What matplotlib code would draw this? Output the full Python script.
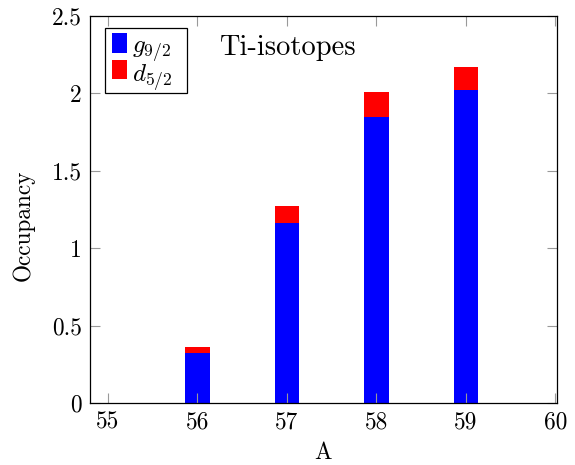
import matplotlib
matplotlib.use("Agg")
import matplotlib.pyplot as plt
from matplotlib.patches import Rectangle

A = [56, 57, 58, 59]
g92 = [0.323, 1.165, 1.847, 2.023]
d52 = [0.040, 0.110, 0.163, 0.147]
labels = [r"$g_{9/2}$", r"$d_{5/2}$"]
colors = ["#0000ff", "#ff0000"]
xticks = [55, 56, 57, 58, 59, 60]
yticks = [0, 0.5, 1, 1.5, 2, 2.5]

plt.rcParams["font.family"] = ["cmr10", "DejaVu Serif"]
plt.rcParams["mathtext.fontset"] = "cm"
plt.rcParams["axes.formatter.use_mathtext"] = True

W, H = 575, 465
L, T, R, B = 90, 15.7, 556.7, 403.3
fig = plt.figure(figsize=(W/100, H/100), dpi=100)
ax = fig.add_axes([L/W, 1-B/H, (R-L)/W, (B-T)/H])

def axf(px, py):
    return ((px-L)/(R-L), (B-py)/(B-T))

w = 0.276
ax.bar(A, g92, width=w, color=colors[0], label=labels[0], linewidth=0)
ax.bar(A, d52, width=w, bottom=g92, color=colors[1], label=labels[1], linewidth=0)

ax.set_xlim(54.8, 60.015)
ax.set_ylim(0, 2.5)
ax.set_xticks(xticks)
ax.set_xticklabels([str(t) for t in xticks])
ax.set_yticks(yticks)
ax.set_yticklabels(["0", "0.5", "1", "1.5", "2", "2.5"])

ax.tick_params(direction="in", length=7, width=0.8, color="#999999",
               top=True, right=True, labelsize=16.8, pad=6)
for s in ax.spines.values():
    s.set_linewidth(0.9)
    s.set_color("black")

ax.set_xlabel("A", fontsize=16.8, labelpad=6)
ax.set_ylabel("Occupancy", fontsize=16.8, labelpad=8)
ax.yaxis.set_label_coords(-0.118, 0.46)

ax.text(57.0, 2.247, "Ti-isotopes", fontsize=20.5, ha="center", va="baseline")

# legend drawn as a framed box with swatches and labels
x0, y0 = axf(104.5, 93.5)
x1, y1 = axf(186.7, 28.0)
ax.add_patch(Rectangle((x0, y0), x1-x0, y1-y0, transform=ax.transAxes,
                       facecolor="white", edgecolor="black", linewidth=0.9, zorder=5))
rows = [(33.3, 52.7, 53.5), (60.0, 79.0, 82.5)]
for (top, bot, base), lab, col in zip(rows, labels, colors):
    hx0, hy0 = axf(112.3, bot)
    hx1, hy1 = axf(126.9, top)
    ax.add_patch(Rectangle((hx0, hy0), hx1-hx0, hy1-hy0, transform=ax.transAxes,
                           facecolor=col, edgecolor="none", zorder=6))
    tx, ty = axf(131.8, base)
    ax.text(tx, ty, lab, transform=ax.transAxes, fontsize=18,
            ha="left", va="baseline", zorder=7)

fig.savefig("out.png", dpi=100)
